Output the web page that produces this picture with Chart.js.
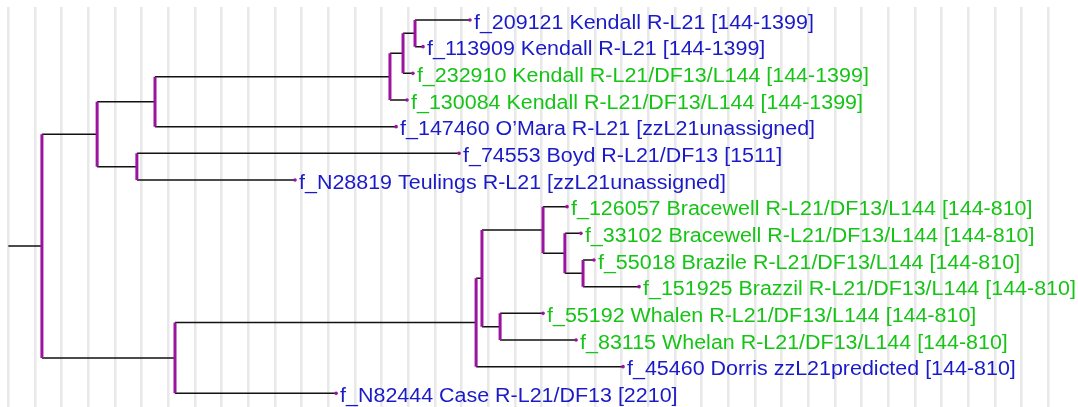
<!DOCTYPE html>
<html>
<head>
<meta charset="utf-8">
<script src="https://cdn.jsdelivr.net/npm/chart.js@4"></script>
<style>
  body { margin: 0; background: #fff; }
</style>
</head>
<body>
<canvas id="tree" width="1078" height="407"></canvas>
<script>
// leaves, top to bottom
const leafLabels = [
    "f_209121 Kendall R-L21 [144-1399]",
    "f_113909 Kendall R-L21 [144-1399]",
    "f_232910 Kendall R-L21/DF13/L144 [144-1399]",
    "f_130084 Kendall R-L21/DF13/L144 [144-1399]",
    "f_147460 O\u2019Mara R-L21 [zzL21unassigned]",
    "f_74553 Boyd R-L21/DF13 [1511]",
    "f_N28819 Teulings R-L21 [zzL21unassigned]",
    "f_126057 Bracewell R-L21/DF13/L144 [144-810]",
    "f_33102 Bracewell R-L21/DF13/L144 [144-810]",
    "f_55018 Brazile R-L21/DF13/L144 [144-810]",
    "f_151925 Brazzil R-L21/DF13/L144 [144-810]",
    "f_55192 Whalen R-L21/DF13/L144 [144-810]",
    "f_83115 Whelan R-L21/DF13/L144 [144-810]",
    "f_45460 Dorris zzL21predicted [144-810]",
    "f_N82444 Case R-L21/DF13 [2210]"
];
const leafDepth = [17.31, 15.55, 15.17, 14.95, 14.54, 16.9, 10.75, 20.95, 21.47, 21.96, 23.65, 20.05, 21.29, 23.05, 12.29];

// internal nodes: children are leaf indexes or node names
const nodeNames = ["root", "A", "K1", "K2", "K3", "K4", "B", "C", "D", "E", "F", "G", "H", "I"];
const nodeDepth = [1.26, 3.33, 5.5, 14.31, 14.8, 15.25, 4.82, 6.25, 17.54, 17.76, 20.05, 20.87, 21.55, 18.44];
const nodeChildren = [
    ["A", "C"], ["K1", "B"], ["K2", 4], ["K3", 3], ["K4", 2], [0, 1],
    [5, 6], ["D", 14], ["E", 13], ["F", "I"], [7, "G"], [8, "H"], [9, 10], [11, 12]
];
const rootStart = 0;
const gridTicks = Array.from({ length: 40 }, (_, i) => i);

const PURPLE = "#9b139f";
const BLUE = "#1a1ac8";
const GREEN = "#16c416";

const depthOf = ref => typeof ref === "number" ? leafDepth[ref] : nodeDepth[nodeNames.indexOf(ref)];
const yOf = ref => {
    if (typeof ref === "number") return ref;
    const kids = nodeChildren[nodeNames.indexOf(ref)];
    return (yOf(kids[0]) + yOf(kids[kids.length - 1])) / 2;
};

const gap = { x: null, y: null };
const hLines = [{ x: rootStart, y: yOf("root") }, { x: nodeDepth[0], y: yOf("root") }, gap];
const vLines = [];
nodeNames.forEach((name, i) => {
    const kids = nodeChildren[i];
    kids.forEach(k => {
        hLines.push({ x: nodeDepth[i], y: yOf(k) }, { x: depthOf(k), y: yOf(k) }, gap);
    });
    vLines.push({ x: nodeDepth[i], y: yOf(kids[0]) }, { x: nodeDepth[i], y: yOf(kids[kids.length - 1]) }, gap);
});
const leafPoints = leafDepth.map((d, i) => ({ x: d, y: i }));

const leafText = {
    id: "leafText",
    afterDatasetsDraw(chart) {
        const { ctx, scales: { x, y } } = chart;
        ctx.save();
        ctx.font = "19.5px 'Liberation Sans', Arial, sans-serif";
        ctx.textBaseline = "alphabetic";
        leafLabels.forEach((label, i) => {
            ctx.fillStyle = label.includes("/L144") ? GREEN : BLUE;
            ctx.save();
            ctx.translate(x.getPixelForValue(leafDepth[i]) + 4, y.getPixelForValue(i) + 8.7);
            ctx.scale(1.1, 1);
            ctx.fillText(label, 0, 0);
            ctx.restore();
        });
        ctx.restore();
    }
};

new Chart(document.getElementById("tree"), {
    type: "scatter",
    data: {
        datasets: [
            { data: vLines, showLine: true, borderColor: PURPLE, borderWidth: 3, pointRadius: 0, spanGaps: false },
            { data: leafPoints, pointRadius: 1.8, pointBackgroundColor: PURPLE, pointBorderWidth: 0 },
            { data: hLines, showLine: true, borderColor: "#111", borderWidth: 1.5, pointRadius: 0, spanGaps: false }
        ]
    },
    options: {
        responsive: false,
        animation: false,
        layout: { autoPadding: false, padding: { top: 7, left: 0, right: 0, bottom: 0 } },
        plugins: { legend: { display: false }, tooltip: { enabled: false } },
        scales: {
            x: {
                type: "linear",
                min: -0.3125,
                max: 40.11,
                afterBuildTicks: s => { s.ticks = gridTicks.map(v => ({ value: v })); },
                afterFit: s => { s.height = 0; },
                ticks: { display: false, padding: 0 },
                border: { display: false },
                grid: { color: "#e8e8e8", lineWidth: 2.5, drawTicks: false }
            },
            y: {
                type: "linear",
                reverse: true,
                min: -0.4875,
                max: 14.5125,
                display: false
            }
        }
    },
    plugins: [leafText]
});
</script>
</body>
</html>
